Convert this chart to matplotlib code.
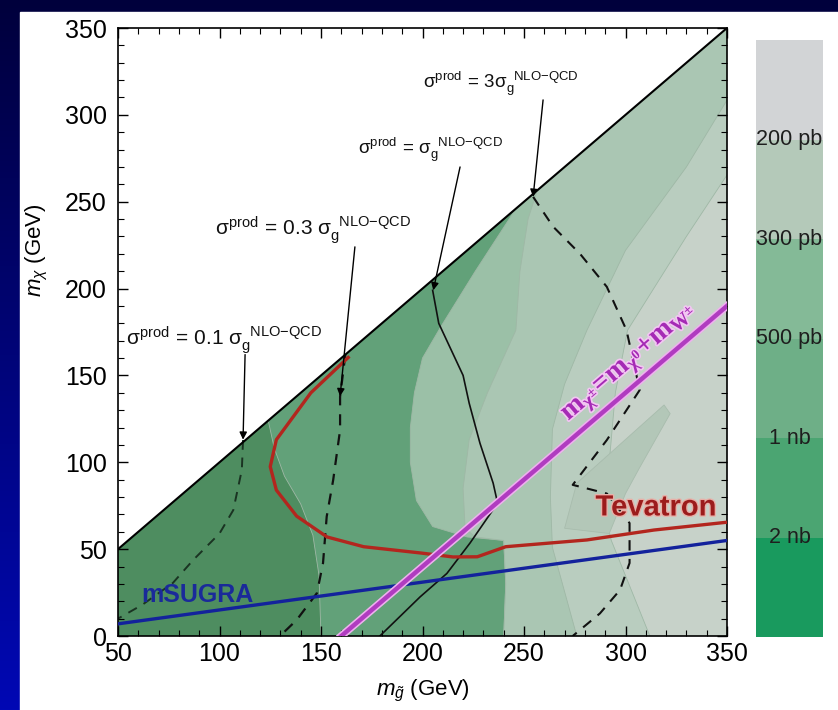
import numpy as np
import matplotlib.pyplot as plt
import matplotlib as mpl
from matplotlib.patches import Polygon, Rectangle
from matplotlib.colors import ListedColormap, BoundaryNorm, LinearSegmentedColormap
import matplotlib.patheffects as pe

plt.rcParams['font.family'] = ['Liberation Sans', 'DejaVu Sans']
plt.rcParams['mathtext.fontset'] = 'custom'
plt.rcParams['mathtext.rm'] = 'Liberation Sans'
plt.rcParams['mathtext.it'] = 'Liberation Sans:italic'
plt.rcParams['mathtext.bf'] = 'Liberation Serif:bold'

# --- data (GeV) ---
diag_x, diag_y = [50, 350], [50, 350]
msugra_x, msugra_y = [50, 350], [7, 55]
wline_x, wline_y = [160, 350], [0, 190]

tev_x = [164, 145, 128, 125, 128, 138, 153, 171, 199, 215, 227, 241, 281, 314, 350]
tev_y = [161, 140, 113, 97.5, 84, 69, 57, 51.4, 47.8, 45.5, 45.6, 51.4, 55.3, 61, 65.5]

sig1_x = [205, 208, 214, 220, 223, 228.3, 234.8, 237, 223.4, 212, 198.8, 179]
sig1_y = [199, 180, 165, 150, 134, 111, 88, 76.5, 53.5, 36, 22.5, 0]

sig01_x = [111.6, 111, 106.8, 100, 87, 77, 62, 50]
sig01_y = [112.8, 95.6, 72.5, 59, 43.7, 30.5, 18, 10]

sig03_x = [162, 159.4, 159.4, 156, 152.8, 151, 148, 138, 129.8]
sig03_y = [162, 137.8, 118.6, 89.8, 68.7, 42, 24.7, 9.2, 0]

sig3_x = [254.5, 264.3, 277.6, 290.8, 300.5, 307, 290.8, 274, 290.8, 302, 302, 297.3, 287.4, 274]
sig3_y = [252.8, 235.7, 220, 201, 176, 141.6, 112.8, 87, 82, 65, 42, 26.5, 13, 0]

# cross-section band boundaries (region to the right gets the next colour)
bound1 = [(118, 132), (124, 124), (127, 108), (132, 92), (140, 76), (146, 58), (149, 35), (150, 0)]
bound2 = [(252, 258), (246, 246), (226, 210), (209, 178), (200, 160), (196, 140), (194, 120),
          (194, 100), (197, 78), (205, 63), (222, 57), (240, 55), (241, 30), (240, 0)]
bound3 = [(258, 262), (252, 240), (248, 210), (246, 176), (232, 140), (223, 113), (220, 85),
          (221, 62), (226, 57), (240, 55), (241, 30), (240, 0)]
bound4 = [(356, 320), (330, 270), (300, 222), (281, 176), (270, 145), (264, 119), (263, 80),
          (264, 51), (276, 0)]
bound5 = [(356, 276), (330, 230), (301, 176), (295, 140), (292, 100), (290, 70), (293, 55), (312, 0)]
island = [(270, 62), (276, 88), (319, 133), (322, 128), (307, 97), (300, 82), (292, 59)]
band_colors = ['#4e8d60', '#62a179', '#9bc0a7', '#aac6b3', '#b9cdbf', '#c7d2c9']
island_color = '#b3c7b8'

cbar_labels = ['200 pb', '300 pb', '500 pb', '1 nb', '2 nb']
cbar_colors = ['#199a5e', '#4ba572', '#6eaf87', '#84ba97', '#b4c9b9', '#d2d4d6']

fig = plt.figure(figsize=(8.38, 7.1), dpi=100)

# background: blue gradient + white panel
bg = fig.add_axes([0, 0, 1, 1], zorder=-10)
grad = np.linspace(0, 1, 256).reshape(-1, 1)
bg.imshow(grad, aspect='auto', extent=[0, 1, 0, 1],
          cmap=LinearSegmentedColormap.from_list('bg', ['#0008b4', '#00003c']), origin='lower')
bg.add_patch(Rectangle((20 / 838, 0), 1, 1 - 12 / 710, color='white', transform=bg.transAxes))
bg.set_xlim(0, 1)
bg.set_ylim(0, 1)
bg.axis('off')

ax = fig.add_axes([118 / 838, 74 / 710, 609 / 838, 608 / 710])
ax.set_xlim(50, 350)
ax.set_ylim(0, 350)

# triangle below the diagonal, used as clip path
tri = Polygon([(50, 0), (350, 0), (350, 350), (50, 50)], closed=True, transform=ax.transData,
              facecolor='none', edgecolor='none')
ax.add_patch(tri)


def right_region(b):
    pts = list(b) + [(360, -10), (360, 360), (b[0][0], 360)]
    return pts


ax.add_patch(Polygon([(50, 0), (350, 0), (350, 350), (50, 50)], closed=True,
                     facecolor=band_colors[0], edgecolor='none', zorder=1))
for b, c in zip([bound1, bound2, bound3, bound4, bound5], band_colors[1:]):
    p = Polygon(right_region(b), closed=True, facecolor=c, edgecolor='#9fb8a6', lw=0.6, zorder=1)
    ax.add_patch(p)
    p.set_clip_path(tri)
p = Polygon(island, closed=True, facecolor=island_color, edgecolor='#a8bcad', lw=0.6, zorder=1)
ax.add_patch(p)

# contours of sigma_prod
ax.plot(sig01_x, sig01_y, color='#1a3322', lw=1.4, ls=(0, (5, 4)), zorder=2)
ax.plot(sig03_x, sig03_y, color='#111111', lw=1.6, ls=(0, (5, 4)), zorder=2)
ax.plot(sig3_x, sig3_y, color='#111111', lw=1.5, ls=(0, (5, 4)), zorder=2)
ax.plot(sig1_x, sig1_y, color='#111111', lw=1.2, zorder=2)

# exclusion / model lines
ax.plot(tev_x, tev_y, color='#b3261e', lw=2.4, zorder=3, solid_capstyle='butt')
ax.plot(msugra_x, msugra_y, color='#13229c', lw=2.4, zorder=3)
ax.plot(wline_x, wline_y, color='#efb0ef', lw=5.5, zorder=3)
ax.plot(wline_x, wline_y, color='#b03cc0', lw=3.2, zorder=3)
ax.plot(diag_x, diag_y, color='black', lw=1.5, zorder=4)

halo = [pe.withStroke(linewidth=2.5, foreground='#f2c6f2')]
ax.text(302, 157, r'$\mathbf{m_{\chi^{\pm}}\!=\!m_{\chi^0}\!+\!m_{W^{\pm}}}$', color='#a52ab5',
        fontsize=20, rotation=45, transform_rotates_text=True, rotation_mode='anchor',
        ha='center', va='center', zorder=5, path_effects=halo)
ax.text(315, 74, 'Tevatron', color='#9c1c1c', fontsize=21, fontweight='bold',
        ha='center', va='center', zorder=5,
        path_effects=[pe.withStroke(linewidth=2, foreground='#e8b0a8')])
ax.text(89, 23.5, 'mSUGRA', color='#1a2a9a', fontsize=18, fontweight='bold',
        ha='center', va='center', zorder=5)

# annotations
ann = [
    (r'$\mathregular{\sigma^{prod}\,=\,0.1\ \sigma_{g}^{\ \ NLO{-}QCD}}$', (54, 170.5), 15,
     (112.6, 162), (111.6, 113)),
    (r'$\mathregular{\sigma^{prod}\,=\,0.3\ \sigma_{g}^{\ \ NLO{-}QCD}}$', (98, 233.7), 15,
     (166.7, 224), (159.4, 138)),
    (r'$\mathregular{\sigma^{prod}\,=\,\sigma_{g}^{\ \ NLO{-}QCD}}$', (168, 280), 13.5,
     (218.5, 270), (205.3, 199)),
    (r'$\mathregular{\sigma^{prod}\,=\,3\sigma_{g}^{\ \ NLO{-}QCD}}$', (200, 318), 13.5,
     (259.4, 308.6), (254.5, 252.8)),
]
for txt, pos, fs, a0, a1 in ann:
    ax.text(pos[0], pos[1], txt, fontsize=fs, ha='left', va='center', color='#111111', zorder=6)
    ax.annotate('', xy=a1, xytext=a0,
                arrowprops=dict(arrowstyle='-|>', color='black', lw=1.0, mutation_scale=11,
                                shrinkA=0, shrinkB=0), zorder=6)

ax.set_xticks(np.arange(50, 351, 50))
ax.set_yticks(np.arange(0, 351, 50))
ax.set_xticks(np.arange(50, 351, 10), minor=True)
ax.set_yticks(np.arange(0, 351, 10), minor=True)
ax.tick_params(which='both', direction='in', top=True, right=True, labelsize=18)
ax.tick_params(axis='x', pad=4)
ax.tick_params(axis='y', pad=8)
ax.tick_params(which='major', length=7, width=1)
ax.tick_params(which='minor', length=4, width=0.8)
for s in ax.spines.values():
    s.set_linewidth(1.2)

ax.set_xlabel(r'$m_{\tilde{g}}$ (GeV)', fontsize=16, labelpad=9)
fig.text(37 / 838, 1 - 250 / 710, r'$m_{\chi}$ (GeV)', fontsize=16, rotation=90,
         ha='center', va='center')

# colour bar
cax = fig.add_axes([756 / 838, 73 / 710, 67 / 838, 597 / 710])
levels = np.arange(len(cbar_colors) + 1)
cmap = ListedColormap(cbar_colors)
norm = BoundaryNorm(levels, cmap.N)
cb = mpl.colorbar.ColorbarBase(cax, cmap=cmap, norm=norm, orientation='vertical')
cb.outline.set_visible(False)
cax.set_yticks([])
cax.minorticks_off()
cax.tick_params(length=0)
for i, lab in enumerate(cbar_labels[::-1]):
    cax.text(0.5, i + 1, lab, transform=cax.transData, ha='center', va='center',
             fontsize=15.5, color='#1e1e1e')

fig.savefig('out.png', dpi=100)
